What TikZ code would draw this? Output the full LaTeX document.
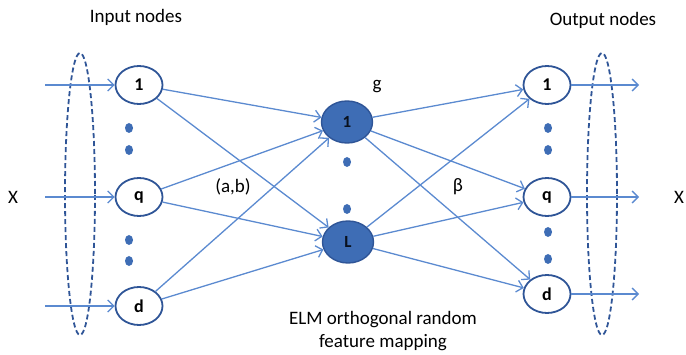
\documentclass[tikz,border=0pt]{standalone}
\usepackage{fontspec}
\setmainfont{Carlito}
\usetikzlibrary{arrows.meta,shapes.geometric}
\definecolor{lineblue}{HTML}{5B8AD0}
\definecolor{darkblue}{HTML}{2F5597}
\definecolor{fillblue}{HTML}{3E6DB5}
\begin{document}
\begin{tikzpicture}[x=1pt,y=-1pt,
  inode/.style={ellipse, draw=darkblue, line width=1.8pt, fill=white, minimum width=47pt, minimum height=38pt, inner sep=0pt, font=\fontsize{18}{18}\selectfont\bfseries},
  hnode/.style={ellipse, draw=darkblue, line width=1.4pt, fill=fillblue, minimum width=51pt, minimum height=42pt, inner sep=0pt, font=\fontsize{17}{17}\selectfont\bfseries, text=black!80!darkblue},
  conn/.style={draw=lineblue, line width=1.3pt, -{Straight Barb[length=6pt,width=12pt]}},
  dotm/.style={ellipse, fill=fillblue, minimum width=8pt, minimum height=10pt, inner sep=0pt},
  grp/.style={ellipse, draw=darkblue, dashed, dash pattern=on 5pt off 3pt, line width=1.8pt, minimum width=30pt, minimum height=282pt, inner sep=0pt},
  lbl/.style={font=\fontsize{19}{23}\selectfont, inner sep=0pt}]
\useasboundingbox (0,0) rectangle (686,355);

% groups
\node[grp] (gin) at (80,194) {};
\node[grp] (gout) at (602,194) {};

% input nodes
\node[inode] (i1) at (139,85) {1};
\node[inode] (iq) at (139,197) {q};
\node[inode] (id) at (139,306) {d};
\node[dotm] (di1) at (129,128) {};
\node[dotm] (di2) at (129,150) {};
\node[dotm] (di3) at (129,240) {};
\node[dotm] (di4) at (129,261) {};

% hidden nodes
\node[hnode] (h1) at (347,122) {1};
\node[hnode] (hL) at (348,242) {L};
\node[dotm] (dh1) at (347,162) {};
\node[dotm] (dh2) at (347,209) {};

% output nodes
\node[inode] (o1) at (547,85) {1};
\node[inode] (oq) at (547,197) {q};
\node[inode] (od) at (547,294) {d};
\node[dotm] (do1) at (548,128) {};
\node[dotm] (do2) at (548,150) {};
\node[dotm] (do3) at (548,232) {};
\node[dotm] (do4) at (548,259) {};

% free ends
\coordinate (a1) at (45,85);
\coordinate (aq) at (45,197);
\coordinate (ad) at (45,306);
\coordinate (b1) at (639,85);
\coordinate (bq) at (639,197);
\coordinate (bd) at (639,294);

% input arrows
\draw[conn] (a1) -- (i1);
\draw[conn] (aq) -- (iq);
\draw[conn] (ad) -- (id);

% input to hidden
\foreach \s in {i1,iq,id}{
  \draw[conn] (\s) -- (h1);
  \draw[conn] (\s) -- (hL);
}
% hidden to output
\foreach \t in {o1,oq,od}{
  \draw[conn] (h1) -- (\t);
  \draw[conn] (hL) -- (\t);
}
% output arrows
\draw[conn] (o1) -- (b1);
\draw[conn] (oq) -- (bq);
\draw[conn] (od) -- (bd);

% labels
\node[lbl] (tin) at (136,17) {Input nodes};
\node[lbl] (tout) at (603,20) {Output nodes};
\node[lbl] (tx1) at (13,197) {X};
\node[lbl] (tx2) at (679,197) {X};
\node[lbl] (tg) at (377,87) {g};
\node[lbl] (tab) at (233,187) {(a,b)};
\node[lbl] (tbeta) at (458,187) {β};
\node[lbl, align=center] (telm) at (383,331) {ELM orthogonal random\\ feature mapping};
\end{tikzpicture}
\end{document}
